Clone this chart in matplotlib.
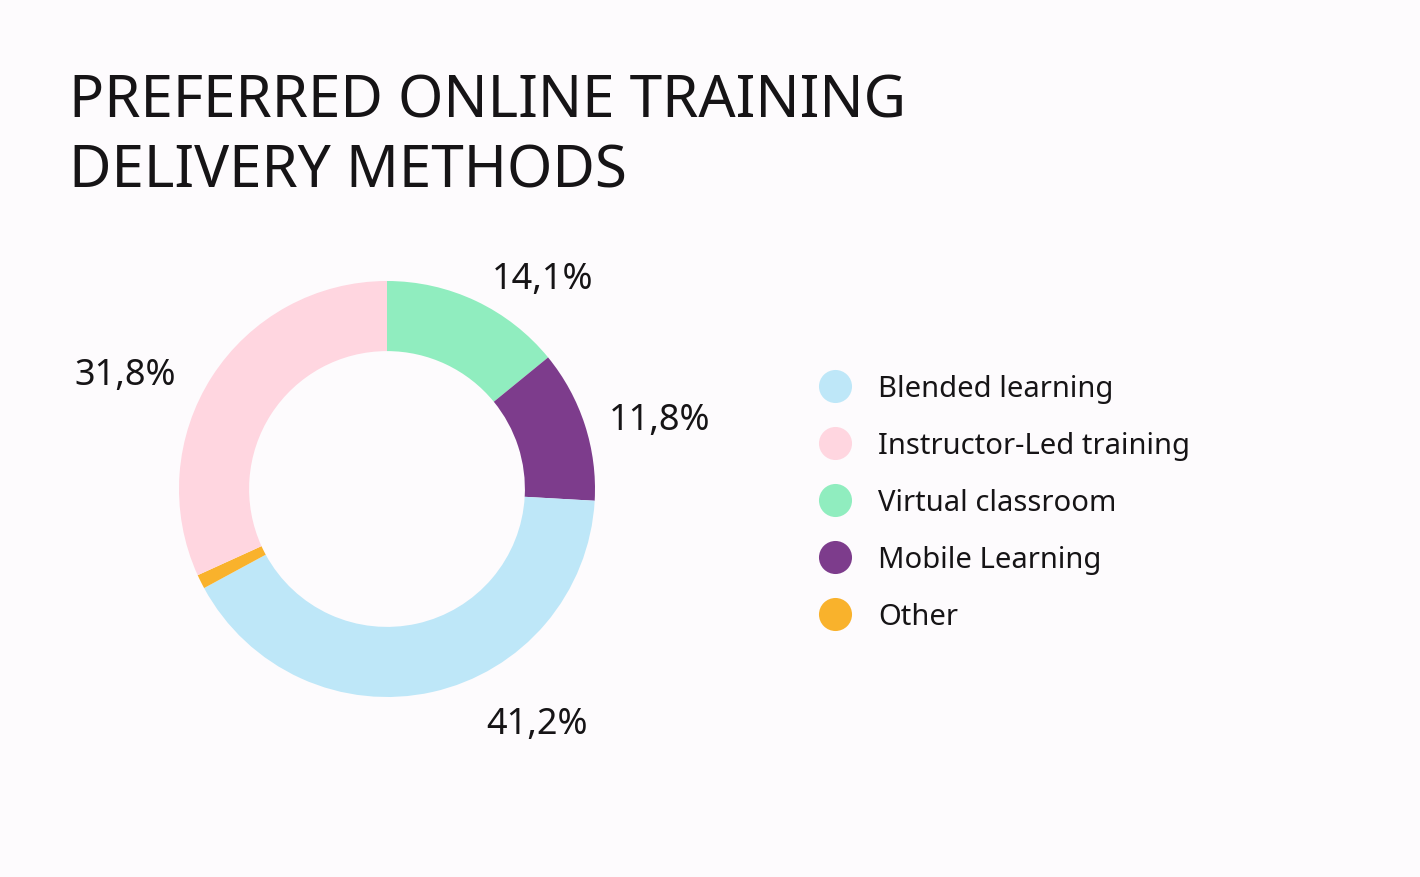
import matplotlib.pyplot as plt

# data
labels = ['Virtual classroom', 'Mobile Learning', 'Blended learning', 'Other', 'Instructor-Led training']
values = [14.1, 11.8, 41.2, 1.1, 31.8]
colors = ['#90EDBF', '#7D3C8C', '#BEE7F8', '#F9B22C', '#FFD6E0']
pct_text = ['14,1%', '11,8%', '41,2%', '', '31,8%']

legend_order = ['Blended learning', 'Instructor-Led training', 'Virtual classroom', 'Mobile Learning', 'Other']

# label positions in pie coords (radius = 1)
label_pos = [(0.75, 1.01), (1.31, 0.33), (0.72, -1.13), None, (-1.26, 0.55)]

bg = '#FDFBFD'
plt.rcParams['font.family'] = ['Noto Sans', 'DejaVu Sans']

fig = plt.figure(figsize=(14.2, 8.78), dpi=100, facecolor=bg)

# title (baseline of the last line)
fig.text(69 / 1420, 1 - 188 / 878, 'PREFERRED ONLINE TRAINING\nDELIVERY METHODS',
         fontsize=42, color='#161416', ha='left', va='baseline',
         linespacing=1.25)

# donut
ax = fig.add_axes([179 / 1420, 1 - 698 / 878, 416 / 1420, 416 / 878])
ax.set_facecolor(bg)
ax.pie(values, colors=colors, startangle=90, counterclock=False, radius=1,
       wedgeprops=dict(width=0.337, linewidth=0))
ax.set_xlim(-1, 1)
ax.set_ylim(-1, 1)
ax.set_aspect('equal')
ax.axis('off')

for txt, pos in zip(pct_text, label_pos):
    if pos is None:
        continue
    ax.text(pos[0], pos[1], txt, fontsize=26, color='#161416', ha='center', va='center')

# legend, drawn by hand
lg = fig.add_axes([0, 0, 1, 1])
lg.set_xlim(0, 1420)
lg.set_ylim(878, 0)
lg.axis('off')
lg.patch.set_alpha(0)
for i, name in enumerate(legend_order):
    y = 387 + 57 * i
    c = colors[labels.index(name)]
    lg.scatter([835], [y], s=33 ** 2 * 0.52, color=c, linewidths=0)
    lg.text(878, y + 3, name, fontsize=21, color='#161416', ha='left', va='center')

fig.savefig('out.png', dpi=100, facecolor=bg)
